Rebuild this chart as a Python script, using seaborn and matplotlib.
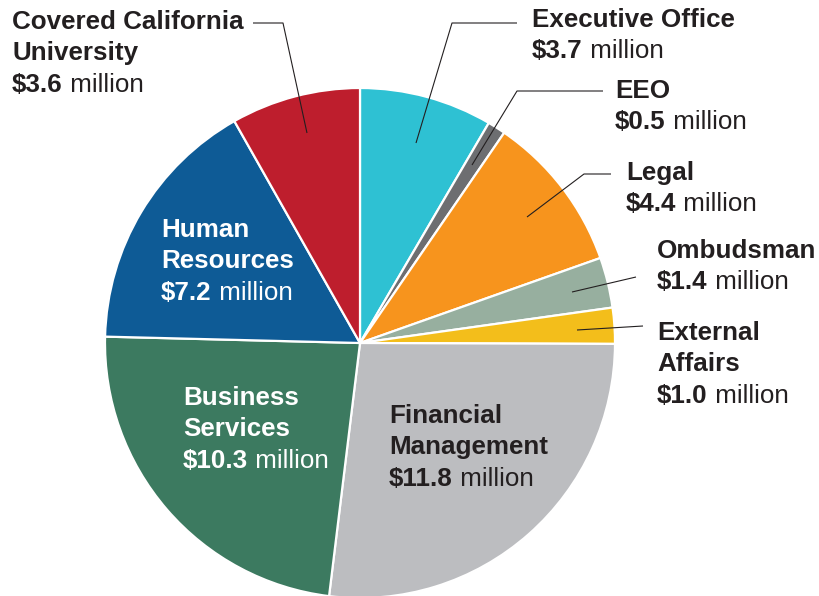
import matplotlib
matplotlib.use('Agg')
import matplotlib.pyplot as plt
import seaborn as sns

# budget by office, clockwise from the top
offices = ['Executive Office', 'EEO', 'Legal', 'Ombudsman', 'External\nAffairs',
           'Financial\nManagement', 'Business\nServices', 'Human\nResources',
           'Covered California\nUniversity']
amounts = [3.7, 0.5, 4.4, 1.4, 1.0, 11.8, 10.3, 7.2, 3.6]
colors = ['#2EC1D3', '#6D6E71', '#F7941D', '#97AF9F', '#F3BE1B',
          '#BCBDC0', '#3C7A60', '#0E5B96', '#BE1E2D']

# label layout in pixels: (x, first baseline, text color)
label_pos = [(532, 27, '#231F20'), (615, 98, '#231F20'), (626, 180, '#231F20'),
             (657, 258, '#231F20'), (657, 340, '#231F20'), (389, 423, '#231F20'),
             (183, 405, 'white'), (161, 237, 'white'), (12, 29, '#231F20')]

# leader lines (pixels), None for labels inside the pie
leaders = [[(517, 23), (452, 23), (416, 143)],
           [(603, 91), (517, 91), (472, 165)],
           [(611, 174), (584, 174), (527, 217)],
           [(636, 277), (572, 292)],
           [(643, 326), (577, 330)],
           None, None, None,
           [(253, 23), (283, 23), (307, 133)]]

sns.set_style('white')
plt.rcParams['font.family'] = ['Liberation Sans', 'DejaVu Sans']

fig = plt.figure(figsize=(8.19, 5.96), dpi=100)
ax = fig.add_axes([0, 0, 1, 1])

# y axis is flipped so pixel coords can be used directly
ax.pie(amounts, colors=colors, startangle=-90, counterclock=True,
       center=(360, 343), radius=255,
       wedgeprops=dict(edgecolor='white', linewidth=1.6))
ax.set_xlim(0, 819)
ax.set_ylim(596, 0)
ax.set_aspect('equal')
ax.axis('off')

fs = 18.7
step = 31.3
for name, amt, (x, y, c), lead in zip(offices, amounts, label_pos, leaders):
    lines = name.split('\n')
    for i, ln in enumerate(lines):
        ax.text(x, y + i * step, ln, fontsize=fs, fontweight='bold', color=c,
                va='baseline', ha='left')
    yv = y + len(lines) * step
    t = ax.text(x, yv, '\\$%.1f' % amt, fontsize=fs, fontweight='bold', color=c,
                va='baseline', ha='left')
    ax.annotate(' million', xy=(1, yv), xycoords=(t, 'data'), fontsize=fs,
                color=c, va='baseline', ha='left')
    if lead:
        xs = [p[0] for p in lead]
        ys = [p[1] for p in lead]
        ax.plot(xs, ys, color='#231F20', lw=0.8, solid_capstyle='butt')

fig.savefig('out.png', dpi=100)
